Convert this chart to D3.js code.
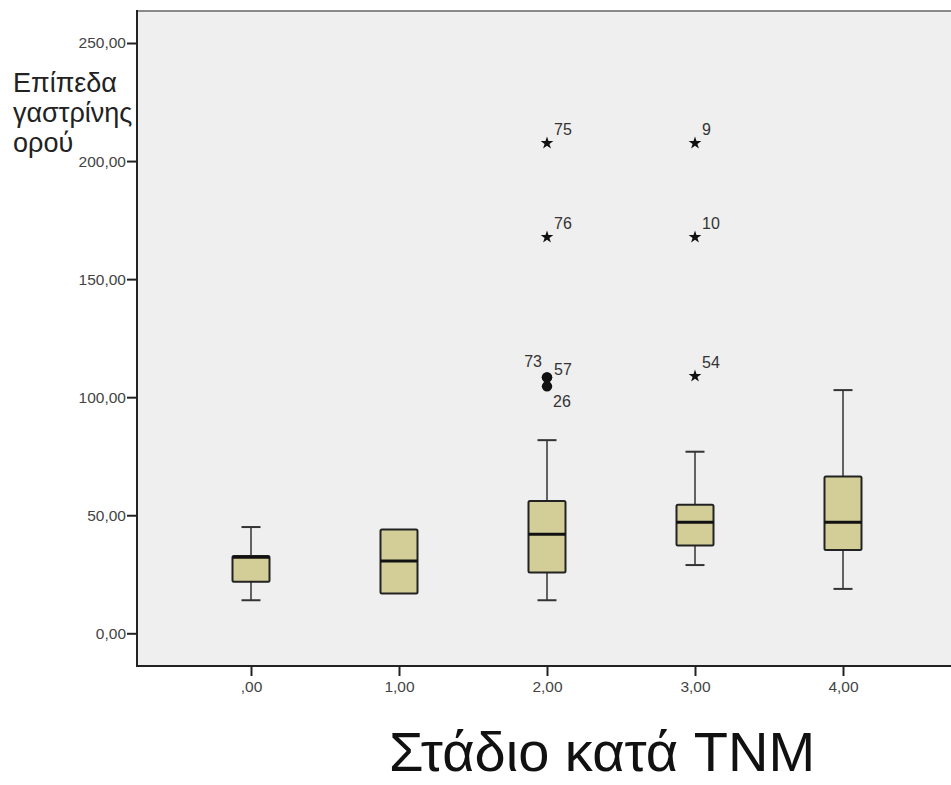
<!DOCTYPE html>
<html>
<head>
<meta charset="utf-8">
<script src="https://cdn.jsdelivr.net/npm/d3@7"></script>
<style>
  body { margin: 0; background: #fff; }
  text { font-family: "Liberation Sans", Arial, sans-serif; }
</style>
</head>
<body>
<div class="canvas"></div>
<script>
// data
const categories = [',00', '1,00', '2,00', '3,00', '4,00'];
const whiskerLow = [14, 16.9, 14, 28.9, 18.8];
const q1 = [21.8, 16.9, 25.7, 37.2, 35.3];
const median = [32.2, 30.6, 41.9, 47, 47];
const q3 = [32.7, 44, 56, 54.4, 66.4];
const whiskerHigh = [45, 44, 81.8, 76.9, 103];

const outlierCat = ['2,00', '2,00', '2,00', '2,00', '2,00', '3,00', '3,00', '3,00'];
const outlierValue = [207.6, 167.8, 108.4, 108.4, 104.6, 207.6, 167.8, 108.9];
const outlierId = ['75', '76', '73', '57', '26', '9', '10', '54'];
const outlierKind = ['star', 'star', 'circle', 'circle', 'circle', 'star', 'star', 'star'];

const yTicks = [0, 50, 100, 150, 200, 250];

// label placement around each marker (dx, dy, anchor)
const labelPos = {
  '73': [-5, -10, 'end'],
  '57': [7, -2, 'start'],
  '26': [6, 21, 'start']
};

const width = 951, height = 785;
const svg = d3.select('.canvas')
  .append('svg')
  .attr('width', width)
  .attr('height', height);

// plot frame
const frame = { left: 137, top: 11, bottom: 666, right: 960 };

const x = d3.scalePoint()
  .domain(categories)
  .range([251, 843]);

const y = d3.scaleLinear()
  .domain([0, 250])
  .range([633.3, 43]);

svg.append('rect')
  .attr('x', frame.left)
  .attr('y', frame.top)
  .attr('width', frame.right - frame.left)
  .attr('height', frame.bottom - frame.top)
  .attr('fill', '#efefef');

// top border
svg.append('line')
  .attr('x1', frame.left).attr('x2', frame.right)
  .attr('y1', frame.top).attr('y2', frame.top)
  .attr('stroke', '#8a8a8a').attr('stroke-width', 2);

// axes
const yAxis = d3.axisLeft(y)
  .tickValues(yTicks)
  .tickSize(10)
  .tickPadding(1)
  .tickFormat(d => d.toFixed(2).replace('.', ','));

const yAxisGroup = svg.append('g')
  .attr('transform', `translate(${frame.left},0)`)
  .call(yAxis);

const xAxis = d3.axisBottom(x)
  .tickSize(10)
  .tickPadding(5);

const xAxisGroup = svg.append('g')
  .attr('transform', `translate(0,${frame.bottom})`)
  .call(xAxis);

[yAxisGroup, xAxisGroup].forEach(g => {
  g.select('.domain').remove();
  g.selectAll('.tick line').attr('stroke', '#222').attr('stroke-width', 2);
  g.selectAll('.tick text')
    .attr('fill', '#444')
    .style('font-size', '15.5px');
});

svg.append('line')
  .attr('x1', frame.left).attr('x2', frame.left)
  .attr('y1', frame.top - 1).attr('y2', frame.bottom + 1)
  .attr('stroke', '#222').attr('stroke-width', 2);
svg.append('line')
  .attr('x1', frame.left).attr('x2', frame.right)
  .attr('y1', frame.bottom).attr('y2', frame.bottom)
  .attr('stroke', '#222').attr('stroke-width', 2);

// boxes
const boxW = 37, capW = 19;
const boxes = categories.map((c, i) => ({
  cat: c, lo: whiskerLow[i], q1: q1[i], med: median[i], q3: q3[i], hi: whiskerHigh[i]
}));

const g = svg.append('g');

boxes.forEach(d => {
  const cx = x(d.cat);
  if (d.hi > d.q3) {
    g.append('line')
      .attr('x1', cx).attr('x2', cx).attr('y1', y(d.hi)).attr('y2', y(d.q3))
      .attr('stroke', '#333').attr('stroke-width', 1.5);
    g.append('line')
      .attr('x1', cx - capW / 2).attr('x2', cx + capW / 2).attr('y1', y(d.hi)).attr('y2', y(d.hi))
      .attr('stroke', '#333').attr('stroke-width', 2);
  }
  if (d.lo < d.q1) {
    g.append('line')
      .attr('x1', cx).attr('x2', cx).attr('y1', y(d.q1)).attr('y2', y(d.lo))
      .attr('stroke', '#333').attr('stroke-width', 1.5);
    g.append('line')
      .attr('x1', cx - capW / 2).attr('x2', cx + capW / 2).attr('y1', y(d.lo)).attr('y2', y(d.lo))
      .attr('stroke', '#333').attr('stroke-width', 2);
  }
  g.append('rect')
    .attr('x', cx - boxW / 2)
    .attr('y', y(d.q3))
    .attr('width', boxW)
    .attr('height', y(d.q1) - y(d.q3))
    .attr('rx', 1.5)
    .attr('fill', '#d3ce98')
    .attr('stroke', '#222')
    .attr('stroke-width', 2);
  g.append('line')
    .attr('x1', cx - boxW / 2).attr('x2', cx + boxW / 2)
    .attr('y1', y(d.med)).attr('y2', y(d.med))
    .attr('stroke', '#111').attr('stroke-width', 3);
});

// outliers and extremes
const outliers = outlierId.map((id, i) => ({
  id, cat: outlierCat[i], v: outlierValue[i], kind: outlierKind[i]
}));

g.selectAll('.mark')
  .data(outliers)
  .enter()
  .append('path')
  .attr('class', 'mark')
  .attr('transform', d => `translate(${x(d.cat)},${y(d.v)})`)
  .attr('d', d => d.kind === 'star'
    ? d3.symbol(d3.symbolStar, 50)()
    : d3.symbol(d3.symbolCircle, 85)())
  .attr('fill', '#111');

g.selectAll('.lbl')
  .data(outliers)
  .enter()
  .append('text')
  .attr('class', 'lbl')
  .attr('x', d => x(d.cat) + (labelPos[d.id] ? labelPos[d.id][0] : 7))
  .attr('y', d => y(d.v) + (labelPos[d.id] ? labelPos[d.id][1] : -8))
  .attr('text-anchor', d => labelPos[d.id] ? labelPos[d.id][2] : 'start')
  .attr('fill', '#333')
  .style('font-size', '16px')
  .text(d => d.id);

// axis titles
const yTitle = svg.append('text')
  .attr('x', 13)
  .attr('fill', '#222')
  .style('font-size', '27px');
['Επίπεδα', 'γαστρίνης', 'ορού'].forEach((t, i) => {
  yTitle.append('tspan').attr('x', 13).attr('y', 92 + i * 30).text(t);
});

svg.append('text')
  .attr('x', 602)
  .attr('y', 771)
  .attr('text-anchor', 'middle')
  .attr('fill', '#111')
  .style('font-size', '56px')
  .text('Στάδιο κατά TNM');
</script>
</body>
</html>
